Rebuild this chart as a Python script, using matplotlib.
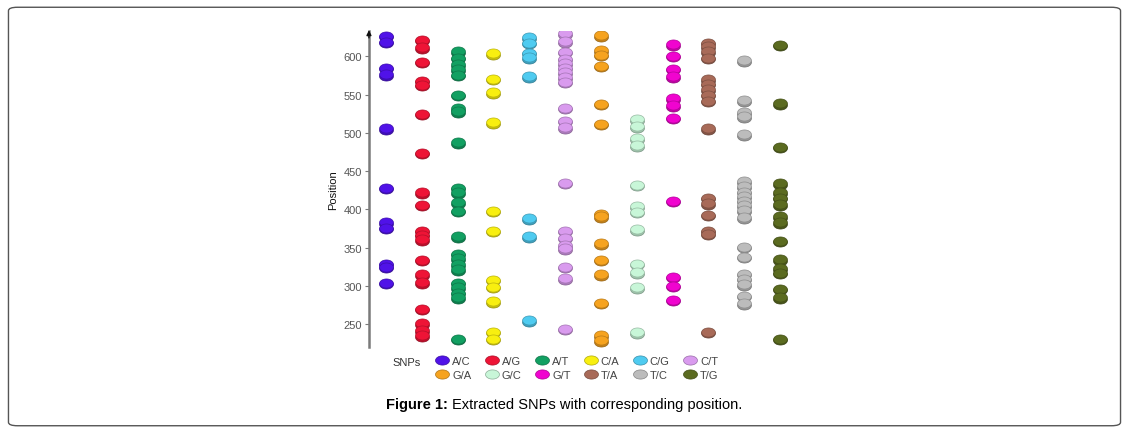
"""
plot.py

Recreates: Figure 1 - Extracted SNPs with corresponding position.
Each SNP type is a column of flat ellipse markers ("coins") at its position.
"""

import numpy as np
import matplotlib.pyplot as plt
import matplotlib.colors as mcolors
from matplotlib.path import Path
from matplotlib.patches import FancyBboxPatch
from matplotlib.transforms import offset_copy

plt.rcParams["font.family"] = ["Liberation Sans", "DejaVu Sans"]

# ===== data =====
snp_types = ["A/C", "A/G", "A/T", "C/A", "C/G", "C/T",
             "G/A", "G/C", "G/T", "T/A", "T/C", "T/G"]

pos_AC = [625, 617, 583, 575, 504, 426, 381, 374, 327, 323, 302]
pos_AG = [620, 610, 591, 566, 561, 523, 472, 420, 404, 370, 365, 359,
          332, 313, 303, 268, 249, 240, 233]
pos_AT = [605, 596, 588, 581, 574, 548, 530, 526, 486, 426, 420, 407,
          396, 363, 340, 334, 326, 320, 302, 296, 289, 283, 229]
pos_CA = [602, 569, 551, 512, 396, 370, 306, 297, 278, 238, 229]
pos_CG = [623, 616, 603, 597, 572, 386, 363, 253]
pos_CT = [628, 618, 604, 595, 589, 583, 577, 571, 565, 531, 514, 505,
          433, 370, 361, 351, 347, 323, 308, 242]
pos_GA = [626, 606, 600, 586, 536, 510, 392, 389, 354, 332, 313, 276,
          233, 227]
pos_GC = [516, 507, 491, 482, 430, 402, 395, 372, 327, 316, 296, 237]
pos_GT = [614, 599, 582, 572, 543, 534, 518, 409, 310, 298, 280]
pos_TA = [616, 611, 605, 596, 568, 562, 555, 548, 540, 504, 413, 406,
          391, 370, 366, 238]
pos_TC = [593, 541, 525, 520, 496, 435, 428, 421, 415, 409, 403, 397,
          388, 349, 336, 314, 307, 300, 285, 275]
pos_TG = [613, 537, 480, 432, 420, 413, 405, 389, 381, 357, 333, 321,
          315, 294, 283, 229]

positions = [pos_AC, pos_AG, pos_AT, pos_CA, pos_CG, pos_CT,
             pos_GA, pos_GC, pos_GT, pos_TA, pos_TC, pos_TG]

colors = ["#5012e8", "#ee1436", "#12a062", "#f8ef10", "#4fcbf0", "#d99bee",
          "#f6a31f", "#c8f6d8", "#f004cf", "#a86a58", "#bcbcbc", "#5b6b20"]

yticks = [250, 300, 350, 400, 450, 500, 550, 600]


def darker(c, f=0.72):
    r, g, b = mcolors.to_rgb(c)
    return (r * f, g * f, b * f)


# flat ellipse marker
t = np.linspace(0, 2 * np.pi, 60)
ellipse = Path(np.column_stack([np.cos(t), 0.66 * np.sin(t)]), closed=True)


def main() -> None:
    fig = plt.figure(figsize=(11.29, 4.35), dpi=100)

    # page border
    fig.patches.append(FancyBboxPatch(
        (0.0075, 0.019), 0.985, 0.962, boxstyle="round,pad=0,rounding_size=0.008",
        transform=fig.transFigure, fill=False, edgecolor="#555555", lw=1.0))

    ax = fig.add_axes([0.3268, 0.2, 0.382, 0.726])
    lift = offset_copy(ax.transData, fig=fig, x=0, y=1.6, units="dots")

    for i, (name, pos, col) in enumerate(zip(snp_types, positions, colors)):
        x = np.full(len(pos), i)
        y = np.array(pos)
        # darker underside, then face on top -> coin look
        ax.scatter(x, y, s=98, marker=ellipse, color=darker(col, 0.8),
                   edgecolors=darker(col, 0.6), linewidths=0.5, zorder=2)
        ax.scatter(x, y, s=98, marker=ellipse, color=col,
                   edgecolors=darker(col, 0.75), linewidths=0.5, zorder=3,
                   transform=lift)

    ax.set_xlim(-0.475, 11.56)
    ax.set_ylim(220, 633)
    ax.set_yticks(yticks)
    ax.set_xticks([])
    for s in ["top", "right", "bottom"]:
        ax.spines[s].set_visible(False)
    ax.spines["left"].set_color("#7a7a7a")
    ax.spines["left"].set_linewidth(1.8)
    ax.tick_params(axis="y", colors="#7a7a7a", labelcolor="#555555",
                   labelsize=8, length=3, width=0.8, pad=2)
    ax.set_ylabel("Position", fontsize=8, color="#111111", labelpad=4)
    # axis arrow head
    ax.annotate("", xy=(0, 1.012), xytext=(0, 0.97), xycoords="axes fraction",
                arrowprops=dict(arrowstyle="-|>", color="#111111", lw=1.0,
                                mutation_scale=7))

    # legend: 2 rows x 6 columns, filled column-wise
    handles = [plt.Line2D([], [], ls="none", marker=ellipse, markersize=10,
                          markerfacecolor=c, markeredgecolor=darker(c, 0.7),
                          markeredgewidth=0.5) for c in colors]
    order = [0, 6, 1, 7, 2, 8, 3, 9, 4, 10, 5, 11]
    ax.legend([handles[k] for k in order], [snp_types[k] for k in order],
              ncol=6, loc="upper left", bbox_to_anchor=(0.147, -0.015),
              frameon=False, fontsize=8, labelcolor="#444444",
              handlelength=1.0, handletextpad=0.4, columnspacing=1.33,
              labelspacing=0.35, borderaxespad=0)
    fig.text(0.3475, 1 - 363 / 435, "SNPs", fontsize=8, color="#333333",
             va="center", ha="left")

    # caption with bold prefix
    fig.canvas.draw()
    r = fig.canvas.get_renderer()
    cap_y = 1 - 405 / 435
    t1 = fig.text(0, cap_y, "Figure 1: ", fontsize=10.5, weight="bold",
                  va="center")
    t2 = fig.text(0, cap_y, "Extracted SNPs with corresponding position.",
                  fontsize=10.5, va="center")
    w1 = t1.get_window_extent(r).width
    w2 = t2.get_window_extent(r).width
    x0 = (fig.bbox.width - (w1 + w2)) / 2
    t1.set_x(x0 / fig.bbox.width)
    t2.set_x((x0 + w1) / fig.bbox.width)

    fig.savefig("out.png", dpi=100)


if __name__ == "__main__":
    main()
